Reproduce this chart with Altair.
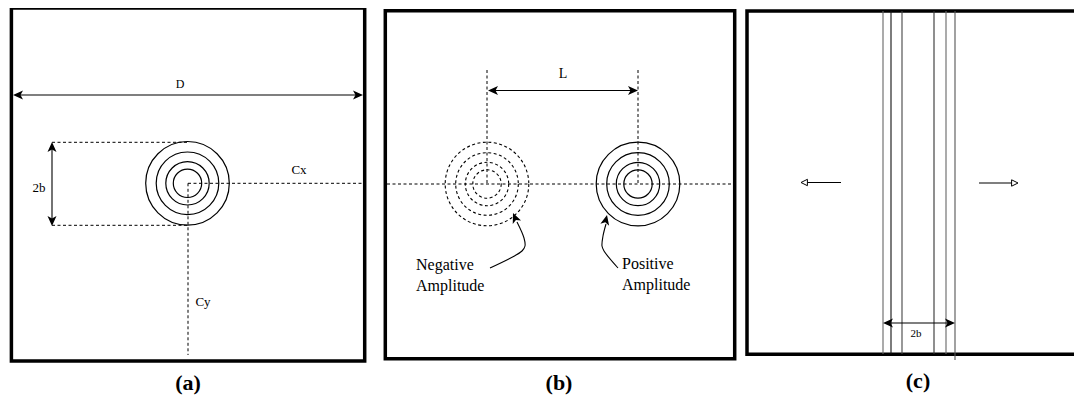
import altair as alt
import pandas as pd

# ---------------- data (pixel-space diagram coordinates) ----------------
# panel frames
frame_x1 = [11.4, 385.3, 747.0]
frame_x2 = [364.7, 734.7, 1095.0]
frame_y1 = [8.0, 10.8, 11.0]
frame_y2 = [361.0, 358.7, 354.3]

# solid segments (dimension arrows shafts, arrows in panel c)
solid_x1 = [16, 52, 492, 888, 807.4, 979]
solid_y1 = [95, 146, 90.5, 323, 182.5, 183]
solid_x2 = [359, 52, 634, 950, 841, 1011.6]
solid_y2 = [95, 222, 90.5, 323, 182.5, 183]

# panel c vertical lines
vline_x = [883, 891, 902, 934, 946, 955]
vline_y1 = [11, 11, 11, 11, 11, 11]
vline_y2 = [354, 354, 354, 354, 354, 360]
vline_color = ["#666666", "#111111", "#444444", "#333333", "#666666", "#555555"]

# dashed segments
dash_x1 = [52, 52, 188, 188, 387, 487, 638]
dash_y1 = [142.3, 225.3, 183.3, 183.3, 184, 70, 70]
dash_x2 = [188, 188, 363, 188, 733, 487, 638]
dash_y2 = [142.3, 225.3, 183.3, 355, 184, 184, 184]

# concentric circles
circ_cx = [187.5] * 4 + [487] * 4 + [638] * 4
circ_cy = [183.3] * 4 + [184] * 4 + [184] * 4
circ_r = [41.8, 31.3, 21.7, 14.2] * 3
circ_dashed = [False] * 4 + [True] * 4 + [False] * 4

# filled arrowheads: tip position and direction (deg, clockwise from +x)
head_x = [13, 363, 52, 52, 488, 638, 883, 955, 513, 607]
head_y = [95, 95, 142, 226, 90.5, 90.5, 323, 323, 213, 215]
head_angle = [180, 0, 270, 90, 180, 0, 180, 0, 247, 283]

# open arrowheads (panel c)
open_x = [801, 1018]
open_y = [182.5, 183]
open_angle = [180, 0]

# curved pointer arrows (panel b)
curve_group = ["neg"] * 5 + ["pos"] * 5
curve_x = [490, 522, 525, 524, 517, 618, 604, 602, 603, 606]
curve_y = [268, 251, 246, 238, 222, 268, 251, 246, 236, 224]

# labels
lab_text = ["D", "2b", "Cx", "Cy", "L", "2b"]
lab_x = [180, 39, 299, 203, 563, 916]
lab_y = [84, 188, 170, 302, 74, 334]
lab_size = [12, 13, 13, 13, 14, 11]

amp_text = ["Negative", "Amplitude", "Positive", "Amplitude"]
amp_x = [416, 416, 622, 622]
amp_y = [265, 286, 264, 285]

panel_text = ["(a)", "(b)", "(c)"]
panel_x = [188, 559, 918]
panel_y = [383, 383, 381]

# ---------------- chart ----------------
W, H = 1066, 391
xs = alt.Scale(domain=[8, 8 + W])
ys = alt.Scale(domain=[8, 8 + H], reverse=True)


def X(f="x"):
    return alt.X(f + ":Q", scale=xs, axis=None)


def Y(f="y"):
    return alt.Y(f + ":Q", scale=ys, axis=None)


frames = pd.DataFrame({"x": frame_x1, "x2": frame_x2, "y": frame_y1, "y2": frame_y2})
solid = pd.DataFrame({"x": solid_x1, "y": solid_y1, "x2": solid_x2, "y2": solid_y2})
vlines = pd.DataFrame({"x": vline_x, "y": vline_y1, "x2": vline_x, "y2": vline_y2, "c": vline_color})
dashed = pd.DataFrame({"x": dash_x1, "y": dash_y1, "x2": dash_x2, "y2": dash_y2})
circ = pd.DataFrame({"x": circ_cx, "y": circ_cy, "r": circ_r, "d": circ_dashed})
circ["s"] = (2 * circ["r"]) ** 2
heads = pd.DataFrame({"x": head_x, "y": head_y, "a": head_angle})
openh = pd.DataFrame({"x": open_x, "y": open_y, "a": open_angle})
curves = pd.DataFrame({"g": curve_group, "x": curve_x, "y": curve_y,
                       "i": list(range(len(curve_x)))})
labs = pd.DataFrame({"t": lab_text, "x": lab_x, "y": lab_y, "s": lab_size})
amps = pd.DataFrame({"t": amp_text, "x": amp_x, "y": amp_y})
pans = pd.DataFrame({"t": panel_text, "x": panel_x, "y": panel_y})

frame_layer = alt.Chart(frames).mark_rect(
    fill="white", fillOpacity=0, stroke="black", strokeWidth=3.5
).encode(x=X(), x2="x2", y=Y(), y2="y2")

solid_layer = alt.Chart(solid).mark_rule(color="black", strokeWidth=1.1).encode(
    x=X(), x2="x2", y=Y(), y2="y2")

vline_layer = alt.Chart(vlines).mark_rule(strokeWidth=1.1).encode(
    x=X(), x2="x2", y=Y(), y2="y2", color=alt.Color("c:N", scale=None))

dash_layer = alt.Chart(dashed).mark_rule(
    color="black", strokeWidth=1, strokeDash=[3, 2.5]
).encode(x=X(), x2="x2", y=Y(), y2="y2")

circ_solid = alt.Chart(circ[~circ["d"]]).mark_point(
    shape="circle", filled=False, color="black", strokeWidth=1.2, opacity=1
).encode(x=X(), y=Y(), size=alt.Size("s:Q", scale=None))

circ_dash = alt.Chart(circ[circ["d"]]).mark_point(
    shape="circle", filled=False, color="black", strokeWidth=1.1, opacity=1,
    strokeDash=[3, 2.5]
).encode(x=X(), y=Y(), size=alt.Size("s:Q", scale=None))

barb = "M0,0L-2,-0.9L-1.5,0L-2,0.9Z"
head_layer = alt.Chart(heads).mark_point(
    shape=barb, filled=True, color="black", opacity=1, size=100
).encode(x=X(), y=Y(), angle=alt.Angle("a:Q", scale=None))

tri = "M0,0L-1.6,-0.8L-1.6,0.8Z"
open_layer = alt.Chart(openh).mark_point(
    shape=tri, filled=False, color="black", strokeWidth=1, opacity=1, size=64
).encode(x=X(), y=Y(), angle=alt.Angle("a:Q", scale=None))

curve_layer = alt.Chart(curves).mark_line(
    color="black", strokeWidth=1.1, interpolate="catmull-rom"
).encode(x=X(), y=Y(), detail="g:N", order="i:Q")

font = "Liberation Serif"
lab_layer = alt.Chart(labs).mark_text(
    font=font, color="black", align="center", baseline="middle"
).encode(x=X(), y=Y(), text="t:N", size=alt.Size("s:Q", scale=None))

amp_layer = alt.Chart(amps).mark_text(
    font=font, color="black", align="left", baseline="middle", fontSize=16
).encode(x=X(), y=Y(), text="t:N")

pan_layer = alt.Chart(pans).mark_text(
    font=font, color="black", align="center", baseline="middle",
    fontSize=22, fontWeight="bold"
).encode(x=X(), y=Y(), text="t:N")

chart = alt.layer(
    frame_layer, dash_layer, vline_layer, solid_layer, circ_solid, circ_dash,
    curve_layer, head_layer, open_layer, lab_layer, amp_layer, pan_layer
).properties(
    width=W, height=H, padding=0, autosize=alt.AutoSizeParams(type="none"),
    background="white"
).configure_view(stroke=None)

chart.save("out.html", embed_options={"renderer": "svg", "actions": False})
